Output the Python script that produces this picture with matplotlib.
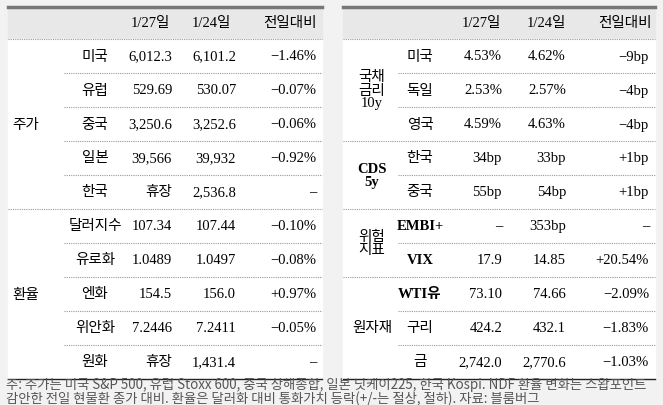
import matplotlib
matplotlib.use("Agg")
import matplotlib.pyplot as plt
from matplotlib.patches import Rectangle

W, H = 663, 406
headers = ["1/27일", "1/24일", "전일대비"]
left_groups = [("주가", ["미국", "유럽", "중국", "일본", "한국"]),
               ("환율", ["달러지수", "유로화", "엔화", "위안화", "원화"])]
left_c1 = ["6,012.3", "529.69", "3,250.6", "39,566", "휴장", "107.34", "1.0489", "154.5", "7.2446", "휴장"]
left_c2 = ["6,101.2", "530.07", "3,252.6", "39,932", "2,536.8", "107.44", "1.0497", "156.0", "7.2411", "1,431.4"]
left_c3 = ["−1.46%", "−0.07%", "−0.06%", "−0.92%", "–", "−0.10%", "−0.08%", "+0.97%", "−0.05%", "–"]
right_groups = [("국채\n금리\n10y", ["미국", "독일", "영국"]),
                ("CDS\n5y", ["한국", "중국"]),
                ("위험\n지표", ["EMBI+", "VIX"]),
                ("원자재", ["WTI유", "구리", "금"])]
right_c1 = ["4.53%", "2.53%", "4.59%", "34bp", "55bp", "–", "17.9", "73.10", "424.2", "2,742.0"]
right_c2 = ["4.62%", "2.57%", "4.63%", "33bp", "54bp", "353bp", "14.85", "74.66", "432.1", "2,770.6"]
right_c3 = ["−9bp", "−4bp", "−4bp", "+1bp", "+1bp", "–", "+20.54%", "−2.09%", "−1.83%", "−1.03%"]
note = ("주: 주가는 미국 S&P 500, 유럽 Stoxx 600, 중국 상해종합, 일본 닛케이225, 한국 Kospi. NDF 환율 변화는 스왑포인트\n"
        "감안한 전일 현물환 종가 대비. 환율은 달러화 대비 통화가치 등락(+/-는 절상, 절하). 자료: 블룸버그")

FAM = ["Liberation Serif", "Noto Sans CJK KR"]
SANS = ["Noto Sans CJK KR", "DejaVu Sans"]
FS = 10.5

fig = plt.figure(figsize=(W/100, H/100), dpi=100)
fig.patch.set_facecolor("#f2f2f2")
ax = fig.add_axes([0, 0, 1, 1])
ax.set_xlim(0, W); ax.set_ylim(H, 0); ax.axis("off")

top, hdr_h, row_h = 8, 32, 34
body_top = top + hdr_h

def table(x0, x1, groups, c1, c2, c3, gx, sx, cx, hx, subx0):
    ax.add_patch(Rectangle((x0, top), x1-x0, hdr_h, color="#e8e8e8", zorder=0))
    ax.add_patch(Rectangle((x0, body_top), x1-x0, row_h*10, color="white", zorder=0))
    ax.plot([x0, x1], [top, top], color="#777777", lw=2.5)
    ax.plot([x0, x1], [body_top, body_top], color="#999999", lw=0.8, ls=(0, (1, 1)))
    ax.plot([x0, x1], [body_top+row_h*10]*2, color="#222222", lw=1.0)
    for h, x in zip(headers, hx):
        ax.text(x, top+hdr_h/2, h, ha="center", va="center", fontsize=FS, family=FAM)
    r = 0
    for gi, (g, subs) in enumerate(groups):
        n = len(subs)
        ycen = body_top + row_h*(r + n/2)
        ax.text(gx, ycen, g, ha="center", va="center", fontsize=FS, family=FAM,
                weight="bold" if g.startswith("CDS") else "normal", linespacing=1.0)
        for k, s in enumerate(subs):
            y = body_top + row_h*(r + k + 0.5)
            bs = s in ("EMBI+", "VIX", "WTI유")
            ax.text(sx, y, s, ha="center", va="center", fontsize=FS, family=FAM,
                    weight="bold" if bs else "normal")
            for vals, x in zip((c1, c2, c3), cx):
                ax.text(x, y, vals[r+k], ha="right", va="center", fontsize=FS, family=FAM)
            if k < n-1:
                yl = body_top + row_h*(r+k+1)
                ax.plot([subx0, x1], [yl, yl], color="#999999", lw=0.8, ls=(0, (1, 1)))
        r += n
        if gi < len(groups)-1:
            yl = body_top + row_h*r
            ax.plot([x0, x1], [yl, yl], color="#999999", lw=0.8, ls=(0, (1, 1)))

table(8, 322, left_groups, left_c1, left_c2, left_c3, 26, 95, [172, 236, 316], [150, 211, 290], 64)
table(343, 655, right_groups, right_c1, right_c2, right_c3, 372, 420, [502, 566, 649], [481, 546, 625], 398)

ax.text(6, 392, note, ha="left", va="center", fontsize=9.6, family=SANS, color="#555555", linespacing=1.0)
fig.savefig("out.png", dpi=100, facecolor=fig.get_facecolor())
